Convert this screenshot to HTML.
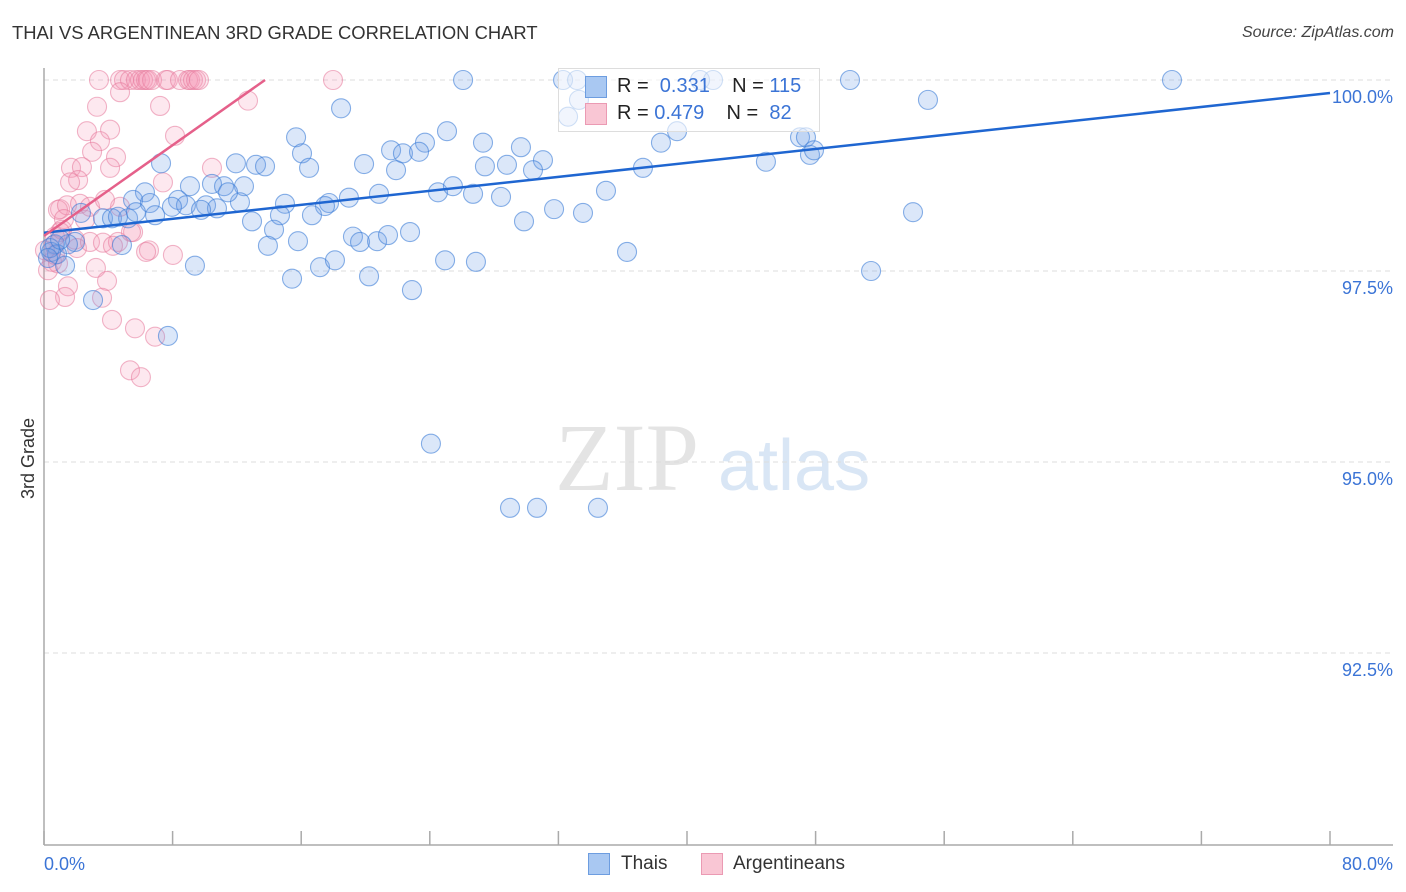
<!DOCTYPE html>
<html><head><meta charset="utf-8"><style>
body{margin:0;background:#fff;font-family:"Liberation Sans",sans-serif;}
#wrap{position:relative;width:1406px;height:892px;overflow:hidden;}
.t{position:absolute;white-space:nowrap;}
</style></head><body><div id="wrap">
<div class="t" style="left:12px;top:22px;font-size:18.4px;color:#333;">THAI VS ARGENTINEAN 3RD GRADE CORRELATION CHART</div>
<div class="t" style="right:12px;top:24px;font-size:16px;color:#444;font-style:italic;">Source: ZipAtlas.com</div>
<div class="t" style="left:18px;font-size:18px;color:#333;transform:rotate(-90deg);transform-origin:left top;top:499px;">3rd Grade</div>
<svg id="svg" width="1406" height="892" style="position:absolute;left:0;top:0">
<text x="555" y="490" font-family="Liberation Serif,serif" font-size="96" fill="#e4e4e4">ZIP</text>
<text x="718" y="490" font-family="Liberation Sans,sans-serif" font-size="72" fill="#d9e6f5">atlas</text>
</svg>
<div style="position:absolute;left:558px;top:68px;width:260px;height:62px;border:1px solid #ddd;background:rgba(255,255,255,0.6);">
<div style="position:absolute;left:26px;top:7px;width:20px;height:20px;background:#a9c8f2;border:1px solid #6d9de0;"></div>
<div class="t" style="left:58px;top:6px;font-size:20px;color:#222;">R = &nbsp;<span style="color:#3b74d6">0.331</span>&nbsp;&nbsp;&nbsp; N = <span style="color:#3b74d6">115</span></div>
<div style="position:absolute;left:26px;top:34px;width:20px;height:20px;background:#f9c6d4;border:1px solid #eb9ab3;"></div>
<div class="t" style="left:58px;top:33px;font-size:20px;color:#222;">R = <span style="color:#3b74d6">0.479</span>&nbsp;&nbsp;&nbsp; N = &nbsp;<span style="color:#3b74d6">82</span></div>
</div>
<div style="position:absolute;left:588px;top:853px;width:20px;height:20px;background:#a9c8f2;border:1px solid #6d9de0;"></div>
<div class="t" style="left:621px;top:853px;font-size:19px;color:#333;">Thais</div>
<div style="position:absolute;left:701px;top:853px;width:20px;height:20px;background:#f9c6d4;border:1px solid #eb9ab3;"></div>
<div class="t" style="left:733px;top:853px;font-size:19px;color:#333;">Argentineans</div>
</div>
<script>
const xTicks=[0,10,20,30,40,50,60,70,80];
const yTicks=[100,97.5,95,92.5];
const yTickLabels=["100.0%","97.5%","95.0%","92.5%"];
const xEndLabels=["0.0%","80.0%"];
const thaisX=[26.07,40.81,41.62,50.14,70.17,32.29,33.16,54.99,18.48,33.28,32.6,15.68,25.07,39.38,23.7,27.31,29.67,16.05,21.59,22.33,23.33,31.04,7.28,11.94,13.19,13.75,19.91,16.49,27.43,28.8,30.42,37.26,44.91,47.03,47.4,38.38,47.65,47.9,21.9,6.28,9.08,10.45,11.2,12.44,20.84,24.51,25.44,26.69,28.43,34.96,5.54,6.59,8.34,8.83,10.08,10.76,12.19,14.99,17.73,17.48,18.97,6.91,7.96,9.77,11.45,12.94,14.68,16.67,2.3,3.67,4.23,5.23,4.6,5.72,31.73,33.53,29.86,54.06,14.31,19.22,19.66,20.72,21.4,22.77,13.93,15.8,4.85,1.93,1.49,0.68,0.44,0.81,1.31,9.39,17.17,18.1,24.95,26.87,36.27,51.45,15.43,20.22,22.89,3.05,7.71,24.07,28.99,30.67,34.46,0.37,1.0,0.25];
const thaisY=[100,100,100,100,100,100,100,99.74,99.63,99.74,99.52,99.25,99.33,99.33,99.18,99.18,99.12,99.04,99.08,99.04,99.06,98.95,98.91,98.91,98.89,98.87,98.9,98.85,98.87,98.89,98.82,98.85,98.93,99.25,99.25,99.18,99.02,99.08,98.82,98.53,98.61,98.64,98.61,98.61,98.51,98.53,98.61,98.51,98.47,98.55,98.43,98.39,98.43,98.36,98.36,98.32,98.4,98.38,98.39,98.35,98.46,98.23,98.34,98.3,98.53,98.15,98.23,98.23,98.26,98.19,98.19,98.19,98.21,98.27,98.31,98.26,98.15,98.27,98.04,97.95,97.88,97.89,97.97,98.01,97.83,97.89,97.84,97.88,97.85,97.85,97.75,97.72,97.57,97.57,97.55,97.64,97.64,97.62,97.75,97.5,97.4,97.43,97.25,97.12,96.65,95.24,94.4,94.4,94.4,97.8,97.91,97.67];
const argX=[3.42,4.73,4.98,5.35,5.72,5.97,6.16,6.35,6.47,6.72,7.59,7.71,8.46,8.96,9.08,9.27,9.46,9.64,17.98,4.73,3.3,7.22,12.69,2.67,4.11,8.15,3.48,2.99,4.48,10.45,1.68,2.36,2.12,1.62,4.11,7.4,1.0,0.87,1.43,1.24,2.55,2.24,2.86,4.73,3.79,5.54,1.0,0.68,0.62,1.93,2.05,2.86,3.67,4.6,5.41,4.29,6.53,6.35,8.02,0.5,0.25,0.87,3.23,3.92,1.49,1.31,0.37,3.61,4.23,5.66,6.91,5.35,6.03,0.68,0.06,1.12];
const argY=[100,100,100,100,100,100,100,100,100,100,100,100,100,100,100,100,100,100,100,99.84,99.65,99.66,99.73,99.33,99.35,99.27,99.2,99.06,98.99,98.85,98.85,98.86,98.69,98.66,98.85,98.66,98.31,98.3,98.36,98.18,98.17,98.38,98.34,98.34,98.43,98.01,98.01,97.95,97.84,97.91,97.8,97.88,97.87,97.88,98.01,97.83,97.77,97.75,97.71,97.62,97.51,97.6,97.54,97.37,97.3,97.16,97.12,97.15,96.86,96.75,96.64,96.2,96.11,97.71,97.77,98.04];
const thaisTrend=[[0,98.0],[80,99.83]];
const argTrend=[[0,97.96],[13.75,100]];
const svg=document.getElementById('svg');const NS='http://www.w3.org/2000/svg';
const X0=44,X1=1330,Y0=80,PXPER=76.4;
function sx(v){return X0+(v/80)*(X1-X0);}
function sy(v){return Y0+(100-v)*PXPER;}
function mk(tag,attrs){const e=document.createElementNS(NS,tag);for(const k in attrs)e.setAttribute(k,attrs[k]);svg.appendChild(e);return e;}
yTicks.forEach((t,i)=>{
 const g=mk('line',{x1:X0,x2:1393,y1:sy(t),y2:sy(t),stroke:'#ddd','stroke-dasharray':'5,4'});
 
 
 const l=mk('text',{x:1393,y:sy(t)+23,'text-anchor':'end','font-size':18,fill:'#3b74d6','font-family':'Liberation Sans,sans-serif'});
 l.textContent=yTickLabels[i];
 
 
});
const ax=mk('line',{x1:X0,x2:X0,y1:68,y2:845,stroke:'#aaa','stroke-width':1.5});


const bx=mk('line',{x1:X0,x2:1393,y1:845,y2:845,stroke:'#aaa','stroke-width':1.5});


for(let v=0;v<=80;v+=8){const t=mk('line',{x1:sx(v),x2:sx(v),y1:831,y2:845,stroke:'#aaa','stroke-width':1.5});
 
 }
[[0,'start',44],[80,'end',1393]].forEach((d,i)=>{const t=mk('text',{x:d[2],y:870,'text-anchor':d[1],'font-size':18,fill:'#3b74d6','font-family':'Liberation Sans,sans-serif'});t.textContent=xEndLabels[i];
 
 });
function pts(xs,ys,fill,stroke,name){xs.forEach((x,i)=>{const c=mk('circle',{cx:sx(x),cy:sy(ys[i]),r:9.5,fill:fill,stroke:stroke,'stroke-width':1.1});
 
 });}
pts(argX,argY,'rgba(244,150,180,0.22)','rgba(230,120,155,0.55)','argentineans-point');
pts(thaisX,thaisY,'rgba(110,160,230,0.25)','rgba(60,125,215,0.6)','thais-point');
const l1=mk('line',{x1:sx(thaisTrend[0][0]),y1:sy(thaisTrend[0][1]),x2:sx(thaisTrend[1][0]),y2:sy(thaisTrend[1][1]),stroke:'#1f66d1','stroke-width':2.5});


const l2=mk('line',{x1:sx(argTrend[0][0]),y1:sy(argTrend[0][1]),x2:sx(argTrend[1][0]),y2:sy(argTrend[1][1]),stroke:'#e5608a','stroke-width':2.5});


</script></body></html>
